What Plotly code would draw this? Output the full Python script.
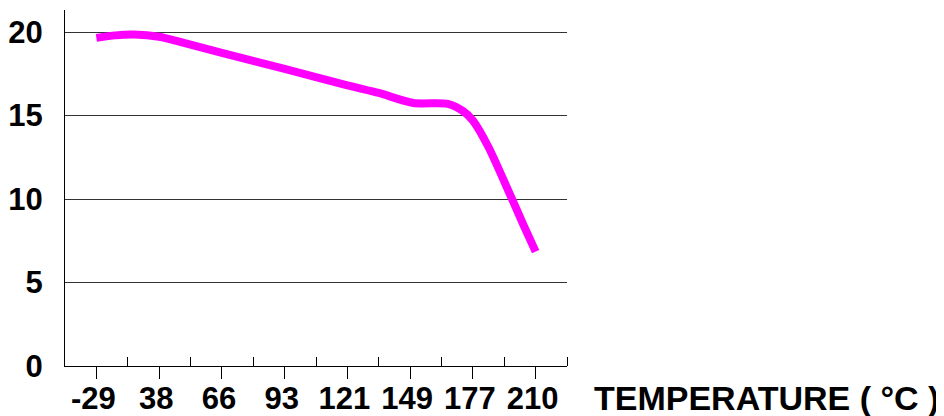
import plotly.graph_objects as go

# tick labels (temperature, °C) shown evenly spaced on the x axis
temp_labels = ["-29", "38", "66", "93", "121", "149", "177", "210"]
y_ticks = [0, 5, 10, 15, 20]

# curve points (x in tick-index units, y value)
curve_pos = [0, 0.3, 0.6, 1.0, 1.35, 2.0, 3.0, 4.0, 4.5, 5.05, 5.6, 5.85, 6.0, 6.25, 6.6, 6.8, 7.0]
curve_val = [19.65, 19.8, 19.85, 19.72, 19.4, 18.75, 17.8, 16.8, 16.35, 15.75, 15.7, 15.25, 14.7, 13.1, 10.2, 8.5, 6.85]

FONT = dict(family="Liberation Sans, Arial, sans-serif", size=31, color="black", weight="bold")

fig = go.Figure()
fig.add_trace(go.Scatter(
    x=curve_pos, y=curve_val, mode="lines",
    line=dict(color="#FF00FF", width=8, shape="spline", smoothing=0.7),
    hoverinfo="skip", showlegend=False,
))

# page body has an 8px margin, so the figure is sized/offset to compensate
fig.update_layout(
    width=936, height=408,
    margin=dict(l=57, r=377, t=2, b=50),
    paper_bgcolor="white", plot_bgcolor="white",
    font=FONT,
    xaxis=dict(
        range=[-0.5, 7.5], tickmode="array", automargin=False,
        tickvals=list(range(len(temp_labels))), ticktext=temp_labels,
        showgrid=False, zeroline=False,
        showline=True, linecolor="black", linewidth=1,
        ticks="outside", ticklen=12, tickcolor="black", tickwidth=1,
        tickfont=FONT, ticklabelstandoff=-7, ticklabelshift=-3,
        minor=dict(ticks="inside", ticklen=9, tickcolor="black", tickwidth=1,
                   tickmode="array", tickvals=[i + 0.5 for i in range(len(temp_labels))],
                   showgrid=False),
    ),
    yaxis=dict(
        range=[0, 21.32], tickmode="array", tickvals=y_ticks, automargin=False,
        showgrid=True, gridcolor="#333333", gridwidth=1,
        zeroline=False, showline=True, linecolor="black", linewidth=1,
        ticks="", tickfont=FONT, ticklabelstandoff=15,
    ),
    annotations=[dict(
        text="TEMPERATURE ( °C )", xref="paper", yref="paper",
        x=(592 - 65) / 502, y=-(398 - 366) / 356, xanchor="left", yanchor="middle",
        showarrow=False, font=dict(family="Liberation Sans, Arial, sans-serif", size=34, color="black", weight="bold"),
    )],
)

fig.write_html("out.html")
